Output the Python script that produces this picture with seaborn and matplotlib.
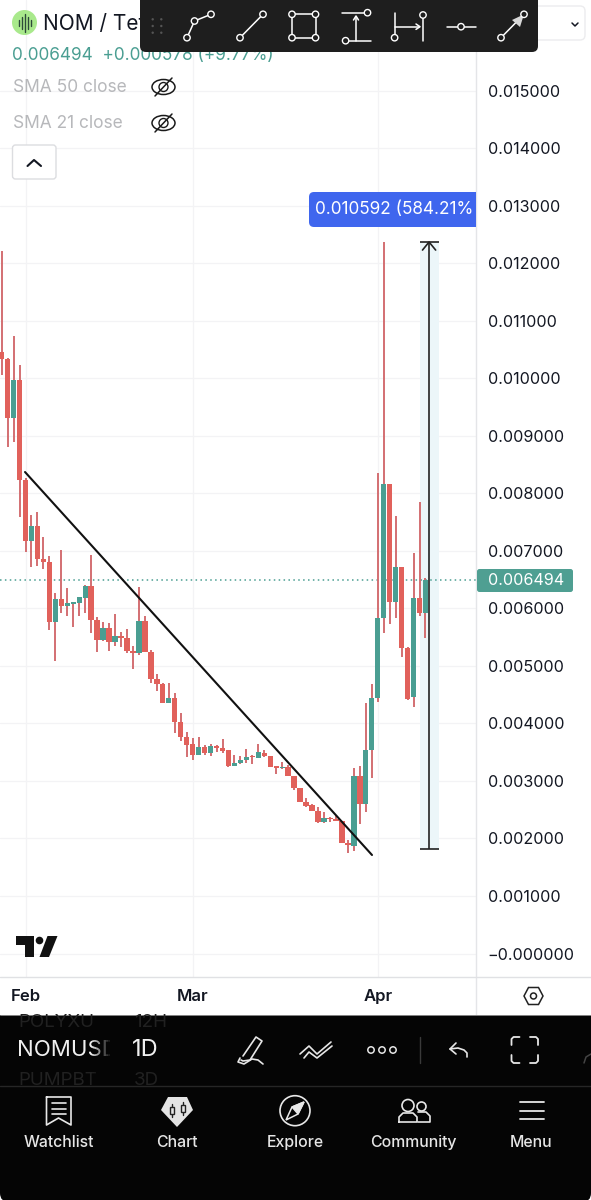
import matplotlib
matplotlib.use('Agg')
import matplotlib.pyplot as plt
from matplotlib.patches import Rectangle, FancyBboxPatch, Circle, Ellipse, Polygon
import pandas as pd
import seaborn as sns

days = list(range(-4, 68))
opens = [10460, 10338, 9312, 9973, 8234, 7173, 7434, 6860, 6808, 5765, 6165, 6043, 6078, 6095, 6182, 6391, 5800, 5452,
         5660, 5417, 5521, 5487, 5260, 5226, 5782, 5243, 4774, 4687, 4356, 4443, 4026, 3765, 3643, 3452, 3591, 3487,
         3608, 3574, 3539, 3261, 3313, 3365, 3435, 3400, 3487, 3435, 3261, 3226, 3243, 3087, 2878, 2635, 2582, 2478,
         2287, 2356, 2339, 2304, 1922, 1869, 3087, 2600, 3539, 4443, 5834, 8165, 6113, 6721, 5313, 4461, 6182, 5921]
highs = [12217, 10356, 10739, 10234, 8269, 7626, 7678, 7243, 6913, 6269, 7017, 6356, 6113, 6200, 6408, 6930, 5852, 5765,
         5747, 5904, 5591, 5643, 5347, 6373, 5869, 5278, 4861, 4704, 4704, 4530, 4182, 3852, 3747, 3765, 3626, 3643,
         3626, 3730, 3539, 3452, 3435, 3556, 3452, 3643, 3539, 3435, 3261, 3330, 3278, 3087, 2878, 2704, 2600, 2548,
         2461, 2374, 2391, 2304, 1974, 3226, 3261, 4356, 4687, 8356, 12373, 8165, 7608, 6721, 5330, 6965, 7852, 6530]
lows = [10060, 8808, 8895, 7591, 6982, 6721, 6739, 6686, 5626, 5087, 5921, 5869, 5678, 5869, 5921, 5573, 5243, 5434,
        5260, 5347, 5330, 5226, 4947, 5191, 5243, 4704, 4565, 4356, 4356, 3834, 3695, 3417, 3365, 3452, 3452, 3435,
        3504, 3487, 3243, 3261, 3296, 3313, 3296, 3400, 3417, 3243, 3122, 3209, 3087, 2843, 2635, 2548, 2478, 2269,
        2269, 2287, 2304, 1922, 1748, 1782, 2252, 2461, 3052, 4374, 5573, 5730, 5834, 5156, 4408, 4287, 5869, 5487]
closes = [10338, 9312, 9973, 8234, 7173, 7434, 6860, 6808, 5765, 6165, 6043, 6095, 6113, 6200, 6391, 5800, 5452, 5660,
          5417, 5521, 5487, 5260, 5226, 5782, 5243, 4774, 4687, 4356, 4443, 4026, 3765, 3626, 3452, 3591, 3487, 3608,
          3574, 3521, 3261, 3313, 3365, 3417, 3417, 3504, 3435, 3243, 3226, 3243, 3087, 2878, 2635, 2565, 2478, 2287,
          2356, 2339, 2304, 1922, 1887, 3087, 2600, 3539, 4443, 5834, 8165, 6113, 6721, 5313, 4426, 6182, 5921, 6494]

last_price = 0.006494
trend_days = [-0.08, 58.04]
trend_prices = [0.008373, 0.001713]
range_days = [66.08, 69.26]
range_line_day = 67.6
range_top = 0.012373
range_bottom = 0.001817
price_ticks = [i / 1000 for i in range(0, 17)]
month_days = [0, 28, 59]
month_names = ['Feb', 'Mar', 'Apr']

RED = '#e1615b'
TEAL = '#4a9e92'
WICK_RED = '#d2696c'
GRID = '#f3f3f5'
W = 591
H = 1200

sns.set_theme(style='white')
plt.rcParams['font.family'] = ['Inter', 'DejaVu Sans']

df = pd.DataFrame({'day': days, 'open': opens, 'high': highs, 'low': lows, 'close': closes})
for c in ['open', 'high', 'low', 'close']:
    df[c] = df[c] / 1e6
df['base'] = df[['open', 'close']].min(axis=1)
df['height'] = (df['open'] - df['close']).abs()
df['up'] = df['close'] > df['open']

fig = plt.figure(figsize=(W / 100, H / 100), dpi=100, facecolor='white')
ax = fig.add_axes([0, (H - 977) / H, 476 / W, 977 / H])
ax.set_axisbelow(True)
ax.grid(True, color=GRID, lw=0.9)
sns.despine(ax=ax, left=True, bottom=True, right=True, top=True)

ax.fill_between(range_days, range_bottom, range_top, color='#ecf6f9', lw=0, zorder=1)
ax.axhline(last_price, color=TEAL, lw=1.1, ls=(0, (1, 2.2)), zorder=1.5)

ax.vlines(df['day'], df['low'], df['high'], color=WICK_RED, lw=1.35, zorder=2)
for up, col in [(True, TEAL), (False, RED)]:
    sub = df[df['up'] == up]
    sns.barplot(data=sub, x='day', y='height', bottom=sub['base'].values, native_scale=True, orient='x',
                color=col, saturation=1, width=0.9, errorbar=None, linewidth=0, ax=ax, zorder=3)

sns.lineplot(x=trend_days, y=trend_prices, color='#111111', lw=1.5, ax=ax, zorder=4)
ax.vlines([range_line_day], range_bottom, range_top, color='#222222', lw=1.2, zorder=4)
ax.hlines([range_bottom, range_top], range_days[0], range_days[1], color='#222222', lw=1.2, zorder=4)
ax.plot([range_line_day - 1.1, range_line_day, range_line_day + 1.1],
        [range_top - 0.00014, range_top, range_top - 0.00014], color='#222222', lw=1.2, zorder=4)

ax.set_xlim(-25.5 / 5.97, (476 - 25.5) / 5.97)
ax.set_ylim((953.5 - 977) * 17.39e-6, 953.5 * 17.39e-6)
ax.set_xlabel('')
ax.set_ylabel('')
ax.yaxis.tick_right()
ax.set_yticks(price_ticks[:16])
ax.set_yticklabels(['\u22120.000000'] + ['%.6f' % p for p in price_ticks[1:16]], fontsize=11.6, color='#131722')
ax.tick_params(axis='y', length=0, pad=8.5)
ax.set_xticks(month_days)
ax.set_xticklabels(month_names, fontsize=12, fontweight='semibold', color='#131722')
ax.tick_params(axis='x', length=0, pad=8.5)

# everything around the chart is drawn in pixels on a second axes
ui = fig.add_axes([0, 0, 1, 1], zorder=5)
ui.set_xlim(0, W)
ui.set_ylim(H, 0)
ui.axis('off')
ui.patch.set_alpha(0)


def line(xs, ys, c='white', lw=1.1, z=20):
    ui.plot(xs, ys, color=c, lw=lw, solid_capstyle='round', solid_joinstyle='round', zorder=z)


def dot(x, y, r=3.2, ec='white', fc='#1e1e1e', lw=1.0, z=21):
    ui.add_patch(Circle((x, y), r, ec=ec, fc=fc, lw=lw, zorder=z))


def box(x, y, w, h, r, **kw):
    p = FancyBboxPatch((x + r, y + r), w - 2 * r, h - 2 * r, boxstyle='round,pad=%f,rounding_size=%f' % (r, r), **kw)
    ui.add_patch(p)
    return p


ui.add_line(plt.Line2D([476, 476], [0, 1015], color='#e4e5e8', lw=1))
ui.add_line(plt.Line2D([0, 591], [977, 977], color='#e0e1e4', lw=1))

# header
ui.add_patch(Circle((24.5, 22.5), 12.5, fc='#a9e98c', ec='none'))
for dx, hh in [(-6, 3), (-3, 6), (0, 9), (3, 6), (6, 3)]:
    line([24.5 + dx, 24.5 + dx], [22.5 - hh, 22.5 + hh], c='#2d4a3a', lw=1.0, z=5)
ui.text(43, 24, 'NOM / TetherUS', fontsize=15, color='#131722', va='center', ha='left')
ui.text(12, 55.5, '0.006494  +0.000578 (+9.77%)', fontsize=12.4, color=TEAL, va='center', ha='left')
for y, name in [(87, 'SMA 50 close'), (123, 'SMA 21 close')]:
    ui.text(13, y, name, fontsize=12.5, color='#b7b8bb', va='center', ha='left')
    ui.add_patch(Ellipse((163.5, y), 23, 15, fc='none', ec='#1a1a1a', lw=1.1))
    ui.add_patch(Circle((163.5, y), 4.5, fc='none', ec='#1a1a1a', lw=1.0))
    line([155, 172], [y + 9, y - 9], c='#1a1a1a', lw=1.1, z=6)
box(12.5, 145, 43.5, 34, 3, fc='white', ec='#dcdde0', lw=1)
line([27.5, 34, 41], [166, 160, 166], c='#131722', lw=1.5)
box(500, 6, 85, 34, 5, fc='white', ec='#ececee', lw=1)
line([572, 575, 578], [23, 26, 23], c='#131722', lw=1.1)

# toolbar
box(140, -8, 398, 60, 6, fc='#1e1e1e', ec='none', zorder=15)
for gx in [152.7, 161.3]:
    for gy in [19.3, 26, 32.7]:
        ui.add_patch(Circle((gx, gy), 1.2, fc='#555555', ec='none', zorder=16))
line([187, 194.5, 211], [37.7, 21, 14.3])
dot(187, 37.7)
dot(194.5, 21)
dot(211, 14.3)
line([240, 263], [37.7, 14.3])
dot(240, 37.7)
dot(263, 14.3)
line([292, 315.5, 315.5, 292, 292], [14.3, 14.3, 37.7, 37.7, 14.3])
for sq in [(292, 14.3), (315.5, 14.3), (292, 37.7), (315.5, 37.7)]:
    dot(*sq)
line([342, 367.5], [12.7, 12.7])
line([345.6, 371], [40.7, 40.7])
line([356, 356], [40.7, 17])
line([353.5, 356, 358.5], [20, 16, 20])
dot(367.5, 12.7)
dot(345.6, 40.7)
line([394.6, 394.6], [12.7, 37.7])
line([423, 423], [15, 40.7])
line([394.6, 419], [26.7, 26.7])
line([416, 420, 416], [24, 26.7, 29.4])
dot(394.6, 37.7)
dot(423, 15)
line([446.7, 475.7], [26.7, 26.7])
dot(461, 26.7)
line([501, 524], [37.7, 14.3])
ui.add_patch(Polygon([(524, 14.3), (512, 20), (520, 27)], fc='#d8d8d8', ec='none', zorder=20))
dot(501, 37.7)
dot(524, 14.3)

# range tag, cut off by the price axis
clip = Rectangle((0, 0), 476, H, transform=ui.transData)
tag = box(309, 192, 190, 35, 5, fc='#3f66ee', ec='none', zorder=8)
tag.set_clip_path(clip)
ui.text(315, 210, '0.010592 (584.21%', color='white', fontsize=12.4, va='center', ha='left', zorder=9)

# last price tag
box(477, 569, 96, 23, 2.5, fc='#4f9f92', ec='none', zorder=8)
ui.text(488, 580.5, '0.006494', color='white', fontsize=11.6, va='center', ha='left', zorder=9)

# logo
ui.add_patch(Polygon([(16, 936), (34, 936), (34, 957), (25, 957), (25, 945), (16, 945)], fc='#111111', ec='none'))
ui.add_patch(Circle((39.5, 940.5), 3.8, fc='#111111', ec='none'))
ui.add_patch(Polygon([(47.5, 936), (57.5, 936), (49, 957), (39.5, 957)], fc='#111111', ec='none'))

# hexagon settings
ui.add_patch(Polygon([(524, 996), (528.5, 987.5), (538.5, 987.5), (543, 996), (538.5, 1004.5), (528.5, 1004.5)],
                     fc='none', ec='#222222', lw=1.1))
ui.add_patch(Circle((533.5, 996), 3, fc='none', ec='#222222', lw=1.1))

# bottom panel
ui.add_patch(Rectangle((0, 1015), W, 40, fc='#050505', ec='none', zorder=10))
box(0, 1030, W, 172, 9, fc='#050505', ec='none', zorder=10)
ui.plot([0, W], [1086, 1086], color='#262626', lw=1, zorder=11)
ui.plot([0, W], [1015, 1015], color='#9a9a9a', lw=0.6, zorder=11)
ui.text(18, 1022.5, 'POLYXU', color='#212121', fontsize=13.5, va='center', ha='left', zorder=12)
ui.text(17, 1050.5, 'NOMUSD', color='#f0f0f0', fontsize=16, va='center', ha='left', zorder=12)
ui.text(18, 1080.5, 'PUMPBT', color='#212121', fontsize=13.5, va='center', ha='left', zorder=12)
for i in range(9):
    ui.add_patch(Rectangle((92 + i * 2, 1016), 2, 69, fc='#050505', alpha=(i + 1) / 10, ec='none', zorder=13))
ui.add_patch(Rectangle((110, 1016), 20, 69, fc='#050505', ec='none', zorder=13))
ui.text(134, 1022.5, '12H', color='#212121', fontsize=13.5, va='center', ha='left', zorder=14)
ui.text(132, 1050.5, '1D', color='#f0f0f0', fontsize=17, va='center', ha='left', zorder=14)
ui.text(134, 1080.5, '3D', color='#212121', fontsize=13.5, va='center', ha='left', zorder=14)

# drawing icons
C = '#e6e6e6'
line([243, 256, 262, 250, 243, 241], [1056, 1037, 1041, 1060, 1061, 1060], c=C, lw=1.2)
line([240, 238, 244, 252, 258, 263], [1058, 1062, 1064, 1059, 1060, 1064], c=C, lw=1.2)
line([300, 309, 317, 331], [1054, 1046, 1054, 1042], c=C, lw=1.2)
line([304, 309, 317, 332], [1058, 1052, 1058, 1046], c=C, lw=1.2)
for x in [371, 382, 393]:
    dot(x, 1050, r=3.2, ec=C, fc='#050505', lw=1.1)
ui.plot([420, 420], [1037, 1063], color='#3a3a3a', lw=1, zorder=20)
line([456, 450, 456], [1043, 1049, 1054], c=C, lw=1.2)
line([450, 458, 464, 467, 467], [1049, 1048, 1050, 1053, 1057], c=C, lw=1.2)
for cx, sx in [(511.5, 1), (538, -1)]:
    for cy, sy in [(1037, 1), (1063, -1)]:
        line([cx + sx * 8, cx + sx * 2, cx, cx], [cy, cy, cy + sy * 2, cy + sy * 8], c=C, lw=1.3)
line([584, 586, 591], [1063, 1057, 1054], c='#444444', lw=1.1)

# nav icons
N = '#e8e8e8'
line([46.5, 71, 71, 58.5, 46.5, 46.5], [1097, 1097, 1125, 1118, 1125, 1097], c=N, lw=1.2)
for y in [1103, 1108.5, 1114]:
    line([51.5, 66], [y, y], c=N, lw=1.2)
ui.add_patch(Polygon([(168, 1097), (187, 1097), (193, 1110), (177, 1127), (161, 1110)], fc='#e4e4e4', ec='none', zorder=20))
for cx, b0, b1 in [(172, 1107, 1114), (182.5, 1105, 1112)]:
    ui.add_patch(Rectangle((cx - 2, b0), 4, b1 - b0, fc='#e4e4e4', ec='#222222', lw=1, zorder=21))
    line([cx, cx], [b0 - 3, b1 + 3], c='#222222', lw=1, z=20.5)
ui.add_patch(Circle((295, 1110.7), 15, fc='none', ec=N, lw=1.2, zorder=20))
ui.add_patch(Polygon([(304, 1102), (298, 1114), (286, 1120), (292, 1107)], fc='none', ec=N, lw=1.1, zorder=20))
ui.add_patch(Polygon([(304, 1102), (298, 1114), (292, 1107)], fc=N, ec=N, lw=1, zorder=20))
ui.add_patch(Circle((408, 1105.5), 6, fc='none', ec=N, lw=1.2, zorder=20))
ui.add_patch(Circle((421.5, 1106.5), 4.5, fc='none', ec=N, lw=1.2, zorder=20))
line([399, 399, 403, 413, 417, 417, 399], [1122, 1117, 1113, 1113, 1117, 1122, 1122], c=N, lw=1.2)
line([418, 426, 430, 430, 418], [1112, 1112, 1116, 1122, 1122], c=N, lw=1.2)
for y in [1102, 1110.7, 1119.3]:
    line([519.5, 544], [y, y], c=N, lw=1.3)
for x, name in [(58.5, 'Watchlist'), (177, 'Chart'), (295, 'Explore'), (413, 'Community'), (531, 'Menu')]:
    ui.text(x, 1142.5, name, color='#e6e6e6', fontsize=11.4, fontweight='medium', va='center', ha='center', zorder=20)

fig.savefig('out.png', dpi=100, facecolor='white')
